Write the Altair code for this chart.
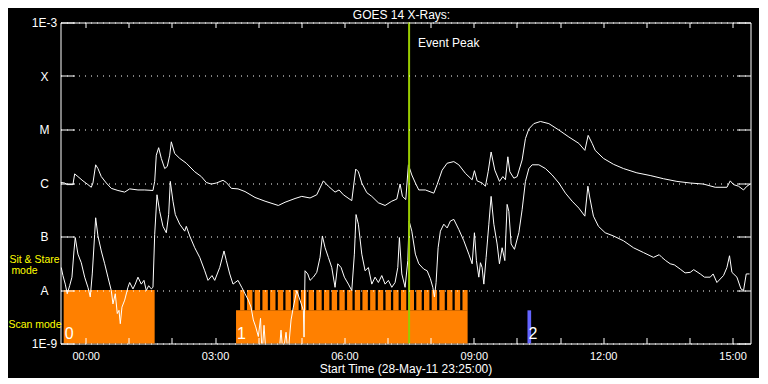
import json
import altair as alt
import pandas as pd

FONT = "Liberation Sans"
ORANGE = "#ff8000"
GREEN = "#99cc00"
BLUE = "#6464ff"
YELLOW = "#ffff00"

# ---- time axis: hours after 29-May-11 00:00 UT (start 28-May-11 23:25:00) ----
t_domain = [-35 / 60, 16 - 35 / 60]
hour_ticks = list(range(0, 16))
hour_labels = ["00:00", "", "", "03:00", "", "", "06:00", "", "", "09:00", "", "",
               "12:00", "", "", "15:00"]

# ---- flux axis ----
decade_exps = [-9, -8, -7, -6, -5, -4, -3]
decade_labels = ["1E-9", "A", "B", "C", "M", "X", "1E-3"]

chart_title = "GOES 14 X-Rays:"
x_title = "Start Time (28-May-11 23:25:00)"

# ---- GOES 14 long channel (1-8 A): (hour, log10 flux) ----
long_channel = [
    (-0.58, -5.99), (-0.487, -6.00), (-0.427, -6.03), (-0.295, -6.03), (-0.255, -5.83),
    (-0.179, -5.88), (-0.063, -5.96), (0.053, -6.03), (0.130, -6.08), (0.169, -6.00),
    (0.232, -5.66), (0.285, -5.73), (0.362, -5.88), (0.478, -6.00), (0.594, -6.10),
    (0.749, -6.14), (0.905, -6.17), (1.021, -6.11), (1.213, -6.13), (1.369, -6.13),
    (1.561, -6.14), (1.601, -5.97), (1.638, -5.48), (1.693, -5.34), (1.754, -5.54),
    (1.833, -5.73), (1.893, -5.69), (1.949, -5.48), (1.986, -5.23), (2.065, -5.45),
    (2.181, -5.54), (2.334, -5.63), (2.529, -5.79), (2.682, -5.88), (2.798, -5.99),
    (2.914, -6.02), (3.030, -6.00), (3.185, -5.95), (3.262, -5.99), (3.378, -6.10),
    (3.533, -6.11), (3.695, -6.16), (3.927, -6.27), (4.160, -6.34), (4.468, -6.42),
    (4.623, -6.36), (4.855, -6.29), (5.011, -6.25), (5.203, -6.28), (5.359, -6.22),
    (5.512, -5.96), (5.628, -6.06), (5.783, -6.17), (5.876, -6.13), (5.976, -6.22),
    (6.171, -6.33), (6.263, -5.74), (6.324, -5.79), (6.403, -6.00), (6.519, -6.18),
    (6.635, -6.25), (6.788, -6.37), (6.943, -6.42), (7.099, -6.34), (7.215, -6.30),
    (7.291, -6.02), (7.345, -6.25), (7.423, -6.31), (7.484, -5.66), (7.563, -5.85),
    (7.646, -6.00), (7.725, -6.13), (7.878, -6.13), (8.073, -6.19), (8.150, -6.03),
    (8.266, -5.76), (8.382, -5.63), (8.537, -5.60), (8.653, -5.66), (8.806, -5.82),
    (8.962, -5.94), (9.015, -5.77), (9.077, -5.96), (9.193, -6.00), (9.270, -6.06),
    (9.333, -5.79), (9.402, -5.42), (9.488, -5.76), (9.595, -5.97), (9.674, -5.88),
    (9.734, -5.94), (9.790, -5.51), (9.836, -5.79), (9.929, -5.91), (10.006, -5.88),
    (10.121, -5.57), (10.198, -5.17), (10.277, -4.99), (10.393, -4.89), (10.546, -4.85),
    (10.741, -4.89), (10.973, -5.01), (11.205, -5.14), (11.437, -5.26), (11.576, -5.39),
    (11.652, -5.11), (11.745, -5.26), (11.815, -5.39), (12.007, -5.54), (12.239, -5.65),
    (12.471, -5.73), (12.782, -5.81), (13.090, -5.86), (13.399, -5.92), (13.710, -5.97),
    (14.019, -6.00), (14.327, -6.02), (14.599, -6.08), (14.870, -6.08), (14.947, -5.96),
    (15.023, -6.03), (15.139, -6.06), (15.255, -6.13), (15.334, -6.06), (15.410, -6.02),
]

# ---- GOES 14 short channel (0.5-4 A): (hour, log10 flux) ----
short_channel = [
    (-0.566, -7.58), (-0.527, -7.73), (-0.473, -7.89), (-0.427, -8.07), (-0.371, -7.92),
    (-0.318, -7.76), (-0.271, -7.27), (-0.241, -7.02), (-0.179, -7.33), (-0.102, -7.49),
    (-0.023, -7.76), (0.053, -7.95), (0.107, -8.13), (0.153, -7.70), (0.209, -6.96),
    (0.232, -6.65), (0.285, -6.99), (0.362, -7.27), (0.441, -7.51), (0.517, -7.76),
    (0.594, -8.01), (0.633, -8.26), (0.687, -8.07), (0.733, -8.44), (0.773, -8.38),
    (0.803, -8.63), (0.842, -8.32), (0.905, -8.19), (0.981, -7.95), (1.021, -7.86),
    (1.097, -7.98), (1.151, -7.89), (1.213, -7.76), (1.290, -7.89), (1.352, -7.82),
    (1.406, -8.01), (1.461, -7.92), (1.522, -7.98), (1.561, -7.95), (1.601, -6.96),
    (1.654, -6.22), (1.717, -6.53), (1.793, -6.81), (1.870, -6.93), (1.925, -6.59),
    (1.963, -5.97), (2.025, -6.34), (2.079, -6.59), (2.181, -6.77), (2.297, -6.90),
    (2.334, -6.81), (2.413, -6.99), (2.529, -7.21), (2.645, -7.39), (2.761, -7.64),
    (2.837, -7.82), (2.930, -7.73), (2.993, -7.82), (3.109, -7.58), (3.208, -7.27),
    (3.262, -7.45), (3.341, -7.70), (3.417, -7.89), (3.533, -7.82), (3.619, -7.95),
    (3.695, -8.07), (3.772, -8.19), (3.835, -8.32), (3.888, -8.56), (3.944, -8.69),
    (4.004, -8.87), (4.055, -8.53), (4.090, -9.20), (4.136, -8.66), (4.183, -9.20),
    (4.484, -9.20), (4.530, -8.75), (4.577, -9.20), (4.647, -8.79), (4.693, -9.20),
    (4.763, -8.56), (4.816, -8.32), (4.895, -8.01), (4.971, -8.19), (5.048, -8.38),
    (5.064, -8.88), (5.087, -7.64), (5.150, -7.70), (5.203, -7.82), (5.280, -7.76),
    (5.359, -7.67), (5.435, -7.39), (5.489, -6.99), (5.552, -7.21), (5.628, -7.39),
    (5.707, -7.58), (5.783, -7.95), (5.846, -7.51), (5.923, -7.58), (5.999, -7.76),
    (6.092, -7.89), (6.171, -8.01), (6.231, -7.33), (6.270, -6.59), (6.324, -6.77),
    (6.403, -7.33), (6.479, -7.64), (6.556, -7.58), (6.635, -7.89), (6.711, -7.76),
    (6.788, -7.86), (6.867, -7.73), (6.943, -7.89), (7.020, -7.82), (7.099, -7.95),
    (7.175, -7.86), (7.238, -7.58), (7.275, -7.02), (7.331, -7.70), (7.407, -7.95),
    (7.470, -7.45), (7.500, -6.71), (7.563, -6.90), (7.646, -7.33), (7.725, -7.51),
    (7.841, -7.61), (7.918, -7.64), (7.994, -7.79), (8.050, -7.95), (8.087, -8.13),
    (8.126, -7.86), (8.173, -7.21), (8.226, -6.90), (8.305, -6.77), (8.382, -6.84),
    (8.458, -6.71), (8.537, -6.68), (8.653, -6.87), (8.769, -7.08), (8.885, -7.33),
    (8.962, -7.51), (9.015, -6.93), (9.061, -7.45), (9.117, -7.76), (9.154, -7.49),
    (9.193, -7.58), (9.233, -7.89), (9.286, -7.39), (9.349, -6.77), (9.402, -6.25),
    (9.465, -6.77), (9.541, -7.14), (9.595, -7.51), (9.657, -7.21), (9.720, -7.45),
    (9.773, -6.40), (9.813, -6.53), (9.866, -7.14), (9.943, -7.24), (10.045, -6.93),
    (10.121, -6.50), (10.198, -5.97), (10.277, -5.73), (10.353, -5.66), (10.509, -5.66),
    (10.662, -5.73), (10.817, -5.85), (10.973, -6.00), (11.126, -6.19), (11.281, -6.34),
    (11.437, -6.47), (11.576, -6.62), (11.646, -6.06), (11.692, -6.28), (11.745, -6.50),
    (11.775, -6.62), (11.891, -6.81), (12.047, -6.93), (12.239, -6.99), (12.471, -7.08),
    (12.703, -7.21), (12.935, -7.30), (13.167, -7.39), (13.300, -7.34), (13.362, -7.39),
    (13.450, -7.45), (13.555, -7.51), (13.650, -7.53), (13.787, -7.61), (13.900, -7.68),
    (14.019, -7.67), (14.100, -7.62), (14.251, -7.70), (14.350, -7.76), (14.483, -7.76),
    (14.550, -7.70), (14.638, -7.86), (14.791, -7.73), (14.870, -7.58), (14.930, -7.36),
    (14.986, -7.67), (15.102, -7.76), (15.195, -7.98), (15.255, -8.01), (15.318, -7.70),
    (15.394, -7.70),
]

# ---- observation bars ----
band_bottom_exp = -9.0
band_mid_exp = -8.38
band_top_exp = -8.0
obs_start = [-0.51, 3.487]
obs_end = [1.60, 8.857]
obs_top_exp = [band_top_exp, band_mid_exp]
stripe_start = [3.581, 3.742, 3.920, 4.099, 4.277, 4.456, 4.634, 4.813, 4.991, 5.170,
                5.348, 5.526, 5.705, 5.883, 6.062, 6.240, 6.418, 6.597, 6.775, 6.954,
                7.132, 7.310, 7.489, 7.667, 7.846, 8.024, 8.202, 8.381, 8.559, 8.738]
stripe_end = [3.681, 3.867, 4.045, 4.224, 4.402, 4.581, 4.759, 4.938, 5.116, 5.295,
              5.473, 5.651, 5.830, 6.008, 6.187, 6.365, 6.543, 6.722, 6.900, 7.079,
              7.257, 7.435, 7.614, 7.792, 7.971, 8.149, 8.327, 8.506, 8.684, 8.857]
other_start = [10.245]
other_end = [10.33]
block_labels = ["0", "1", "2"]
block_label_hours = [-0.51, 3.487, 10.245]

event_peak_hour = [7.5]
event_label = ["Event Peak"]
mode_labels = ["Sit & Stare", "mode", "Scan mode"]

# ---------------- data frames ----------------
df_long = pd.DataFrame({"t": [p[0] for p in long_channel],
                        "flux": [10 ** p[1] for p in long_channel]})
df_short = pd.DataFrame({"t": [p[0] for p in short_channel],
                         "flux": [10 ** p[1] for p in short_channel]})
df_obs = pd.DataFrame({"t0": obs_start, "t1": obs_end,
                       "lo": [10 ** band_bottom_exp] * len(obs_start),
                       "hi": [10 ** e for e in obs_top_exp]})
df_stripes = pd.DataFrame({"t0": stripe_start, "t1": stripe_end,
                           "lo": [10 ** band_mid_exp] * len(stripe_start),
                           "hi": [10 ** band_top_exp] * len(stripe_start)})
df_other = pd.DataFrame({"t0": other_start, "t1": other_end,
                         "lo": [10 ** band_bottom_exp], "hi": [10 ** band_mid_exp]})
df_blabels = pd.DataFrame({"t": block_label_hours, "label": block_labels})
df_peak = pd.DataFrame({"t": event_peak_hour, "label": event_label,
                        "lo": [10.0 ** decade_exps[0]], "hi": [10.0 ** decade_exps[-1]]})

decades = [10.0 ** e for e in decade_exps]

x_scale = alt.Scale(domain=t_domain, nice=False, zero=False)
y_scale = alt.Scale(type="log", domain=[10.0 ** decade_exps[0], 10.0 ** decade_exps[-1]], nice=False)

x_label_expr = json.dumps(hour_labels) + "[round(datum.value)]"
y_label_expr = json.dumps(decade_labels) + "[round(log(datum.value)/LN10)+9]"

x_label_axis = alt.Axis(orient="bottom", values=hour_ticks, labelExpr=x_label_expr,
                        ticks=False, tickSize=0, domain=False, grid=False,
                        labelColor="white", labelFont=FONT, labelFontSize=11,
                        labelBaseline="alphabetic", labelPadding=15.5, labelFlush=False,
                        title=x_title, titleColor="white",
                        titleFont=FONT, titleFontSize=12, titleFontWeight="normal",
                        titleBaseline="alphabetic", titleY=28.5, zindex=1)
x_tick_bottom = alt.Axis(orient="bottom", values=hour_ticks, labels=False, domain=False,
                         grid=False, ticks=True, tickSize=6, tickColor="white",
                         offset=-6, title=None, zindex=1)
x_tick_top = alt.Axis(orient="top", values=hour_ticks, labels=False, domain=False,
                      grid=False, ticks=True, tickSize=5, tickColor="white",
                      offset=-5, title=None, zindex=1)

y_label_axis = alt.Axis(orient="left", values=decades, labelExpr=y_label_expr,
                        ticks=False, tickSize=0, domain=False, grid=True,
                        gridColor="white", gridDash=[1, 5], gridWidth=1, gridOpacity=1,
                        labelColor="white", labelFont=FONT, labelFontSize=12,
                        labelAlign="center", labelBaseline="middle", labelPadding=16.5,
                        labelFlush=True, labelOverlap=False, title=None, zindex=1)
y_tick_left = alt.Axis(orient="left", values=decades, labels=False, domain=False,
                       grid=False, ticks=True, tickSize=14, tickColor="white",
                       offset=-14, title=None, zindex=1)
y_tick_right = alt.Axis(orient="right", values=decades, labels=False, domain=False,
                        grid=False, ticks=True, tickSize=14, tickColor="white",
                        offset=-14, title=None, zindex=1)

obs_layer = alt.Chart(df_obs).mark_rect(color=ORANGE, strokeWidth=0).encode(
    x=alt.X("t0:Q", scale=x_scale, axis=x_tick_top), x2="t1:Q",
    y=alt.Y("lo:Q", scale=y_scale, axis=y_tick_right), y2="hi:Q")
stripe_layer = alt.Chart(df_stripes).mark_rect(color=ORANGE, strokeWidth=0).encode(
    x=alt.X("t0:Q", scale=x_scale, axis=None), x2="t1:Q",
    y=alt.Y("lo:Q", scale=y_scale, axis=None), y2="hi:Q")
other_layer = alt.Chart(df_other).mark_rect(color=BLUE, strokeWidth=0).encode(
    x=alt.X("t0:Q", scale=x_scale, axis=None), x2="t1:Q",
    y=alt.Y("lo:Q", scale=y_scale, axis=None), y2="hi:Q")
blabel_layer = alt.Chart(df_blabels).mark_text(
    color="white", font=FONT, fontSize=16, align="left", baseline="alphabetic", dx=1
).encode(x=alt.X("t:Q", scale=x_scale, axis=None), y=alt.value(316.5), text="label:N")

long_layer = alt.Chart(df_long).mark_line(color="white", strokeWidth=1, clip=True).encode(
    x=alt.X("t:Q", scale=x_scale, axis=x_label_axis),
    y=alt.Y("flux:Q", scale=y_scale, axis=y_label_axis))
short_layer = alt.Chart(df_short).mark_line(color="white", strokeWidth=1, clip=True).encode(
    x=alt.X("t:Q", scale=x_scale, axis=x_tick_bottom),
    y=alt.Y("flux:Q", scale=y_scale, axis=y_tick_left))

peak_rule = alt.Chart(df_peak).mark_rule(color=GREEN, strokeWidth=2).encode(
    x=alt.X("t:Q", scale=x_scale, axis=None),
    y=alt.Y("lo:Q", scale=y_scale, axis=None), y2="hi:Q")
peak_text = alt.Chart(df_peak).mark_text(
    color="white", font=FONT, fontSize=12, align="left", baseline="alphabetic", dx=9
).encode(x=alt.X("t:Q", scale=x_scale, axis=None), y=alt.value(24.8), text="label:N")

mode_text = alt.Chart(pd.DataFrame({"label": mode_labels,
                                    "px": [-26.0, -36.0, -25.5],
                                    "py": [240.8, 251.5, 305.5]})).mark_text(
    color=YELLOW, font=FONT, fontSize=10.5, align="center", baseline="alphabetic"
).encode(x=alt.X("px:Q", scale=None, axis=None), y=alt.Y("py:Q", scale=None, axis=None),
         text="label:N")

title_text = alt.Chart(pd.DataFrame({"label": [chart_title]})).mark_text(
    color="white", font=FONT, fontSize=12, align="center", baseline="alphabetic"
).encode(x=alt.value(341), y=alt.value(-3.5), text="label:N")

chart = alt.layer(
    obs_layer, stripe_layer, other_layer, blabel_layer,
    long_layer, short_layer, peak_rule, peak_text, mode_text, title_text
).resolve_axis(x="independent", y="independent").properties(
    width=690, height=321,
    padding={"left": 52.5, "top": 14.5, "right": 8, "bottom": 34},
    autosize=alt.AutoSizeParams(type="none"),
    background="black",
).configure_view(stroke="white", strokeWidth=1)

chart.save("out.html", embed_options={"renderer": "svg", "actions": False})
